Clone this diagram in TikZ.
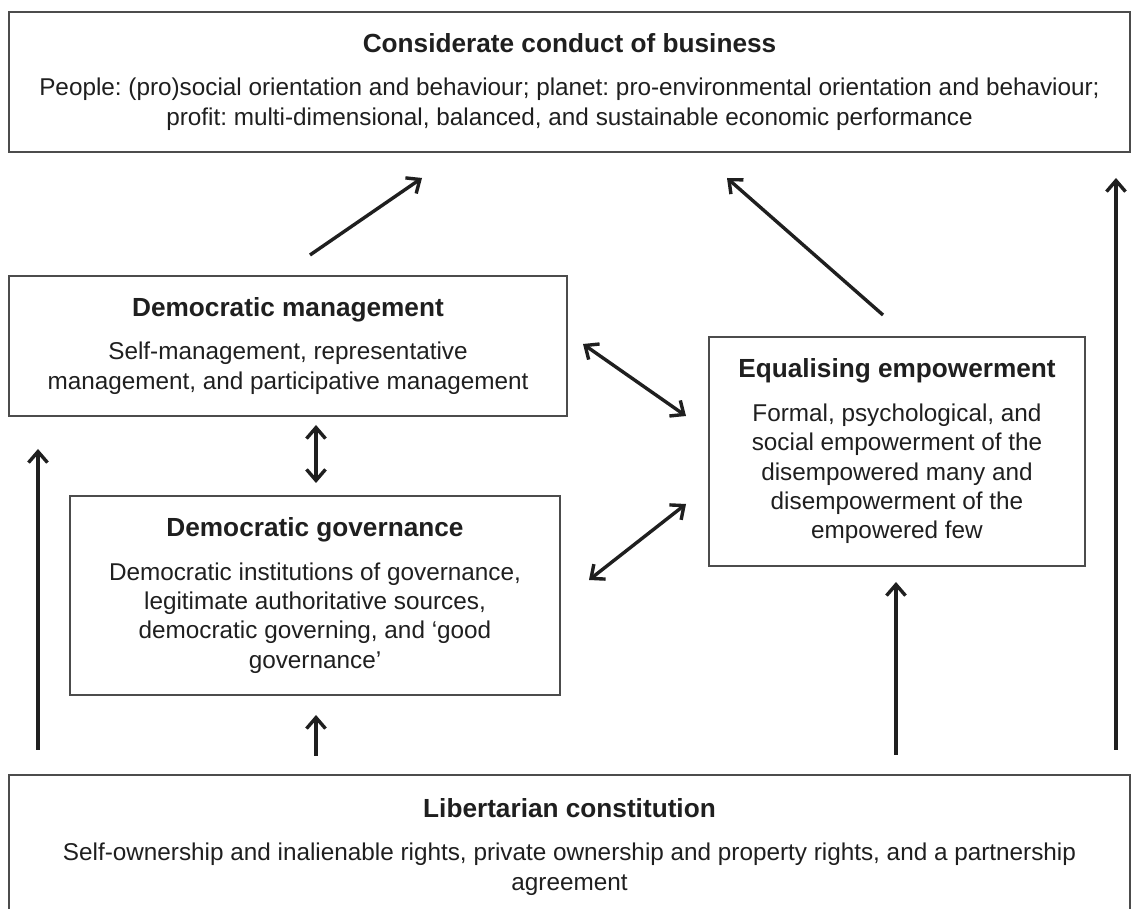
\documentclass[tikz,border=0pt]{standalone}
\usepackage{fontspec}
\setmainfont{Liberation Sans}
\usetikzlibrary{arrows.meta}

\begin{document}
\begin{tikzpicture}[x=0.5pt,y=-0.5pt,
   box/.style={draw=black!70,line width=0.9pt,align=center,inner sep=0pt,
     text=black!88,font=\fontsize{12.15}{14.7}\selectfont\frenchspacing},
   arr/.style={line width=1.7pt,draw=black!88,-{Straight Barb[length=5.5pt,width=9.5pt]}},
   darr/.style={arr,{Straight Barb[length=5.5pt,width=9.5pt]}-{Straight Barb[length=5.5pt,width=9.5pt]}}]
   \def\ttl#1{{\fontsize{13.1}{14.7}\selectfont\bfseries #1}\\[7pt]}
   \useasboundingbox (0,0) rectangle (1132,909);
   \fill[white] (0,0) rectangle (1132,909);
   \clip (0,0) rectangle (1132,909);
   % boxes
   \node[box,minimum width=560.5pt,minimum height=70pt] (biz) at (569.5,82)
     {\ttl{Considerate conduct of business}People: (pro)social orientation and behaviour; planet: pro-environmental orientation and behaviour;\\profit: multi-dimensional, balanced, and sustainable economic performance};
   \node[box,minimum width=279pt,minimum height=70pt] (mgmt) at (288,346)
     {\ttl{Democratic management}Self-management, representative\\management, and participative management};
   \node[box,minimum width=188pt,minimum height=114.5pt] (empow) at (897,451.5)
     {\ttl{Equalising empowerment}Formal, psychological, and\\social empowerment of the\\disempowered many and\\disempowerment of the\\empowered few};
   \node[box,minimum width=245pt,minimum height=99.5pt] (gov) at (315,595.5)
     {\ttl{Democratic governance}Democratic institutions of governance,\\legitimate authoritative sources,\\democratic governing, and `good\\governance'};
   \node[box,minimum width=560.5pt,minimum height=72pt] (constit) at (569.5,847)
     {\ttl{Libertarian constitution}Self-ownership and inalienable rights, private ownership and property rights, and a partnership\\agreement};
   % arrow ends
   \coordinate (m1) at (310,255);  \coordinate (b1) at (422,178);
   \coordinate (e1) at (883,315);  \coordinate (b2) at (727,178);
   \coordinate (c1) at (1116,750); \coordinate (b3) at (1116,178);
   \coordinate (c2) at (38,750);   \coordinate (m2) at (38,449);
   \coordinate (m3) at (316,425);  \coordinate (g1) at (316,483);
   \coordinate (m4) at (583,344);  \coordinate (e2) at (686,416);
   \coordinate (g2) at (589,580);  \coordinate (e3) at (686,504);
   \coordinate (c3) at (316,756);  \coordinate (g3) at (316,715);
   \coordinate (c4) at (896,755);  \coordinate (e4) at (896,582);
   % arrows
   \draw[arr] (m1) -- (b1);
   \draw[arr] (e1) -- (b2);
   \draw[arr] (c1) -- (b3);
   \draw[arr] (c2) -- (m2);
   \draw[darr] (m3) -- (g1);
   \draw[darr] (m4) -- (e2);
   \draw[darr] (g2) -- (e3);
   \draw[arr] (c3) -- (g3);
   \draw[arr] (c4) -- (e4);
\end{tikzpicture}
\end{document}
